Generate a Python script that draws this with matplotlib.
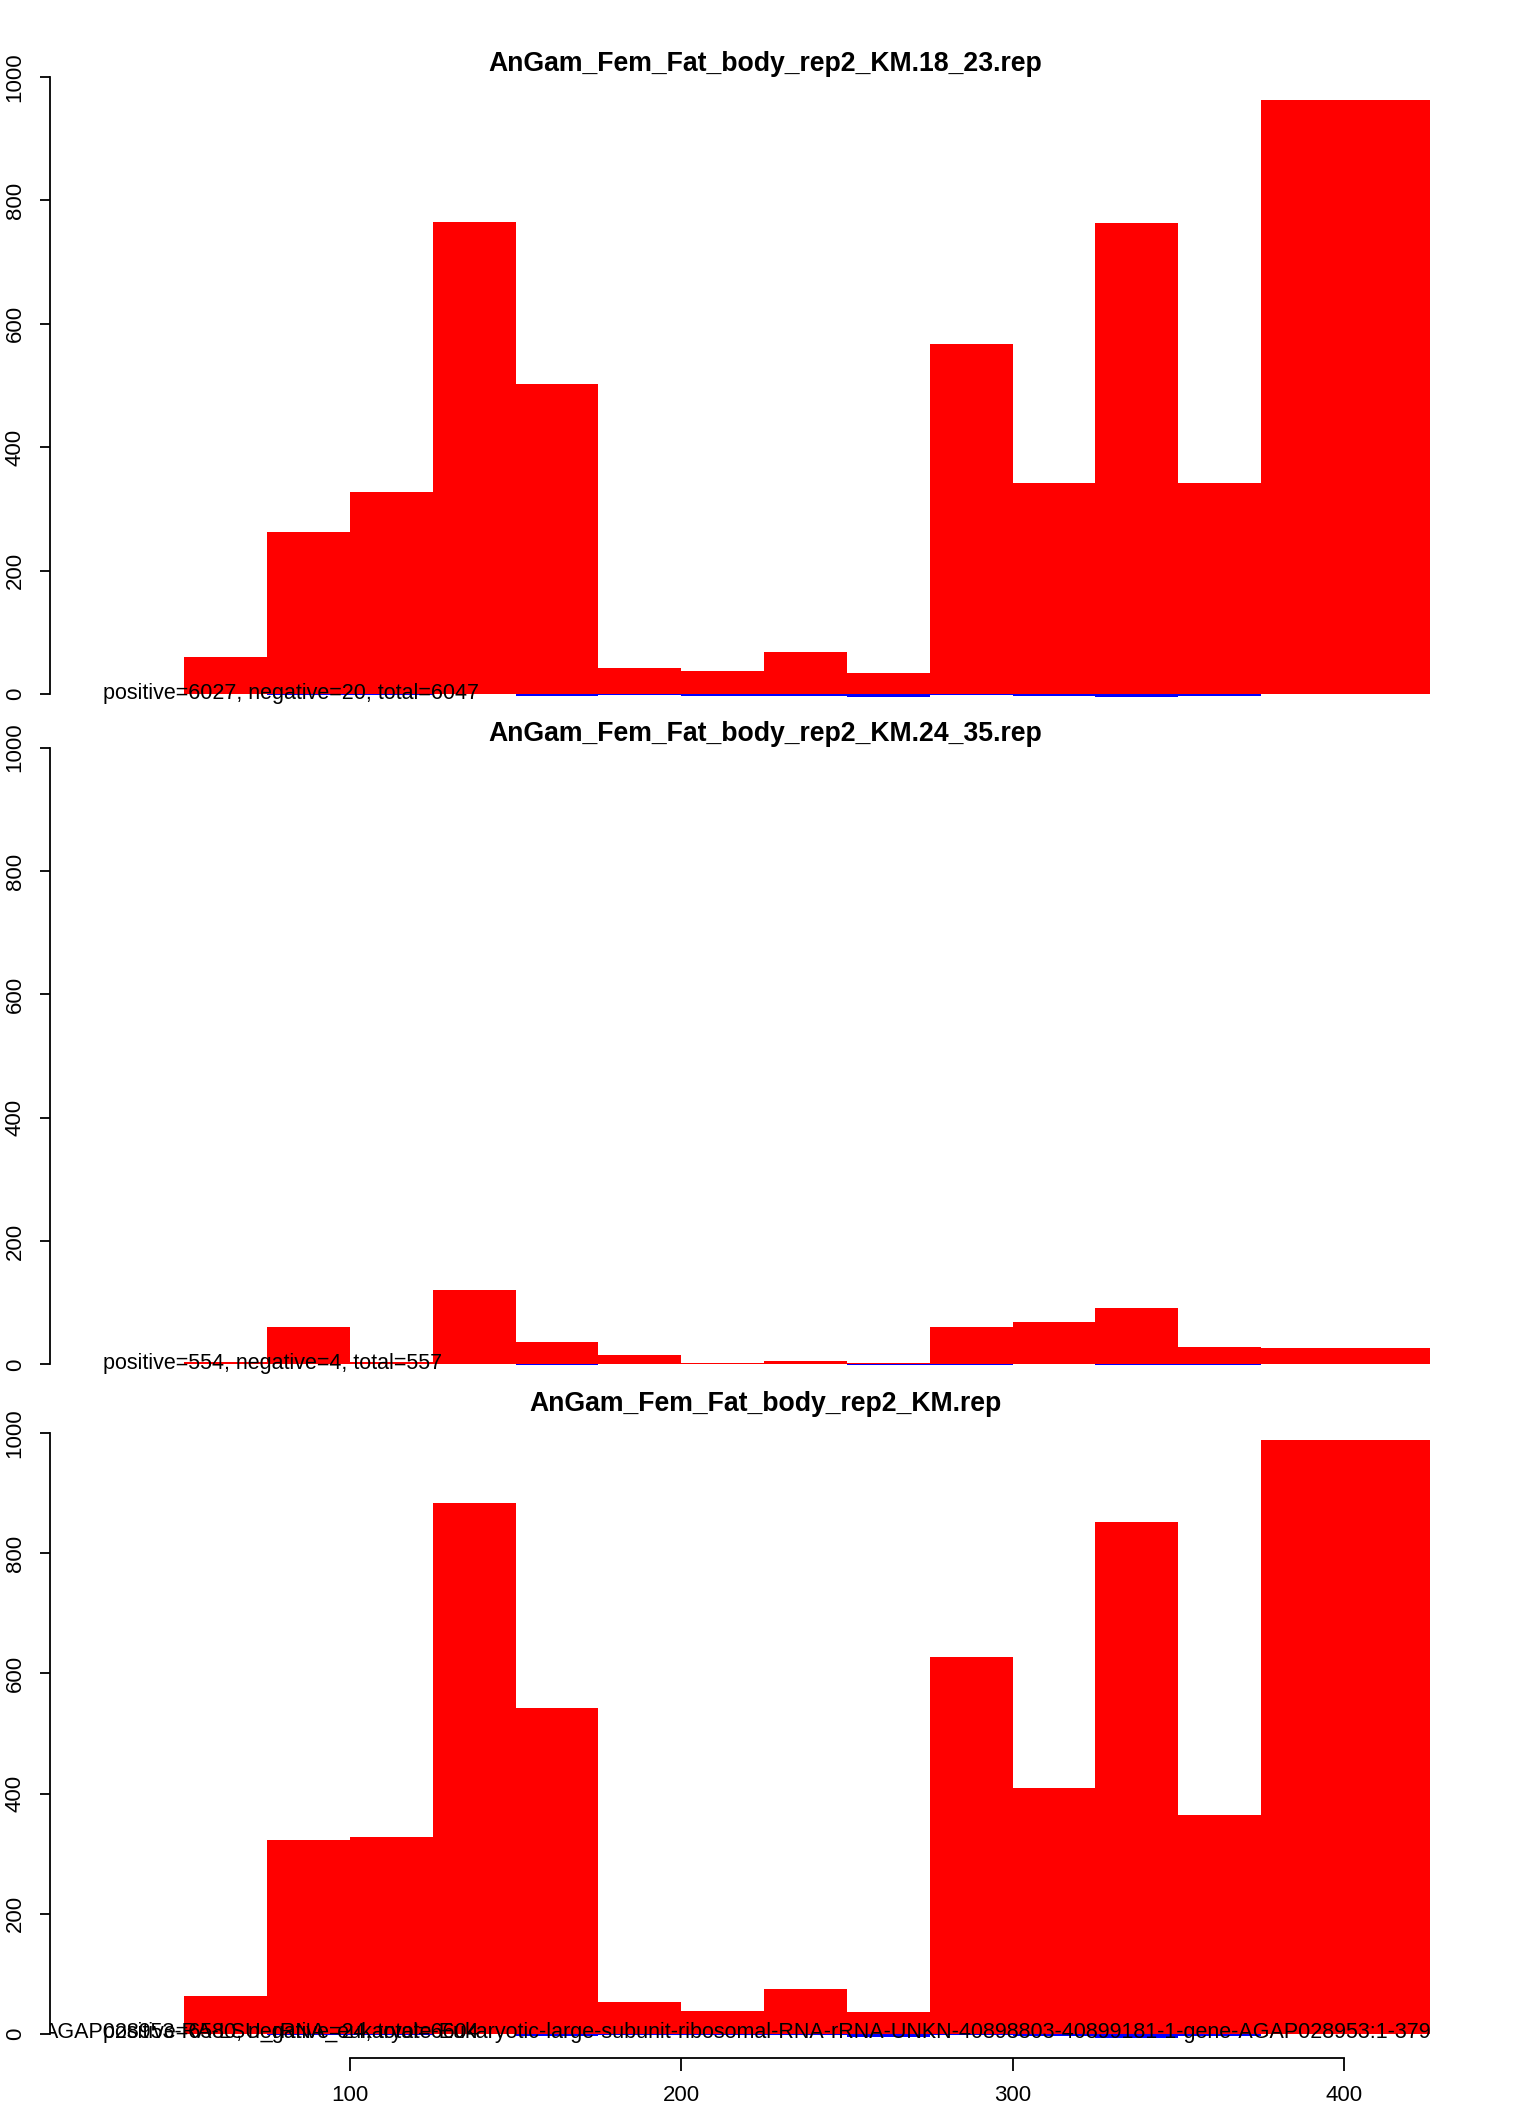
import numpy as np
import matplotlib
matplotlib.use('Agg')
import matplotlib.pyplot as plt

plt.rcParams['font.family'] = ['Liberation Sans', 'DejaVu Sans']

# bin edges along the transcript (last bin is double width)
edges = [50, 75, 100, 125, 150, 175, 200, 225, 250, 275, 300, 325, 350, 375, 426]

titles = ['AnGam_Fem_Fat_body_rep2_KM.18_23.rep',
          'AnGam_Fem_Fat_body_rep2_KM.24_35.rep',
          'AnGam_Fem_Fat_body_rep2_KM.rep']

# positive-strand coverage per bin
pos_18_23 = [60, 262, 327, 765, 503, 42, 38, 68, 35, 567, 342, 763, 342, 962]
pos_24_35 = [4, 61, 3, 120, 37, 15, 2, 6, 2, 61, 68, 92, 28, 26]
pos_all = [63, 323, 327, 883, 543, 54, 38, 74, 36, 628, 410, 852, 365, 989]

# negative-strand coverage per bin
neg_18_23 = [0, 1, 1, 0, 3, 1, 2, 2, 4, 1, 3, 5, 2, 0]
neg_24_35 = [0, 0, 0, 0, 1, 0, 0, 0, 1, 1, 0, 1, 1, 0]
neg_all = [0, 1, 1, 0, 4, 1, 2, 2, 5, 2, 3, 6, 3, 0]

notes = ['positive=6027, negative=20, total=6047',
         'positive=554, negative=4, total=557',
         'positive=6580, negative=24, total=6604']
gene = ('AGAP028953-RA-LSU_rRNA_eukaryote-Eukaryotic-large-subunit-ribosomal-'
        'RNA-rRNA-UNKN-40898803-40899181-1-gene-AGAP028953:1-379')

W, H = 1536, 2112
fig = plt.figure(figsize=(W / 100, H / 100), dpi=100)

# plot regions in pixels (top, bottom)
ax_x0, ax_x1 = 50, 1480
boxes = [(52, 719), (723, 1389), (1409, 2058)]
title_y = [64, 734, 1404]

pos_list = [pos_18_23, pos_24_35, pos_all]
neg_list = [neg_18_23, neg_24_35, neg_all]

left = np.array(edges[:-1])
widths = np.diff(edges)

for i in range(3):
    top, bot = boxes[i]
    ax = fig.add_axes([ax_x0 / W, 1 - bot / H, (ax_x1 - ax_x0) / W, (bot - top) / H])
    ax.bar(left, pos_list[i], width=widths, align='edge', color='#FF0000', linewidth=0)
    ax.bar(left, -np.array(neg_list[i]), width=widths, align='edge', color='#0000FF', linewidth=0)
    ax.set_xlim(9.45, 441.1)
    ax.set_ylim(-40, 1040)

    for s in ['top', 'right']:
        ax.spines[s].set_visible(False)
    ax.spines['left'].set_bounds(0, 1000)
    ax.spines['left'].set_linewidth(1.3)
    ax.set_yticks([0, 200, 400, 600, 800, 1000])
    ax.tick_params(axis='y', labelrotation=90, labelsize=16, length=7.5, width=1.3, pad=10)
    for lab in ax.get_yticklabels():
        lab.set_va('center')

    if i < 2:
        ax.spines['bottom'].set_visible(False)
        ax.set_xticks([])
    else:
        ax.spines['bottom'].set_bounds(100, 400)
        ax.spines['bottom'].set_linewidth(1.3)
        ax.set_xticks([100, 200, 300, 400])
        ax.tick_params(axis='x', labelsize=16, length=9.5, width=1.3, pad=10)

    ax.text(25.5, 2, notes[i], fontsize=15.5, ha='left', va='center')
    if i == 2:
        ax.text(426.5, 2, gene, fontsize=15.5, ha='right', va='center', clip_on=True)

    fig.text((ax_x0 + ax_x1) / 2 / W, 1 - title_y[i] / H, titles[i],
             fontsize=19.2, fontweight='bold', ha='center', va='center')

fig.savefig('out.png', dpi=100)
